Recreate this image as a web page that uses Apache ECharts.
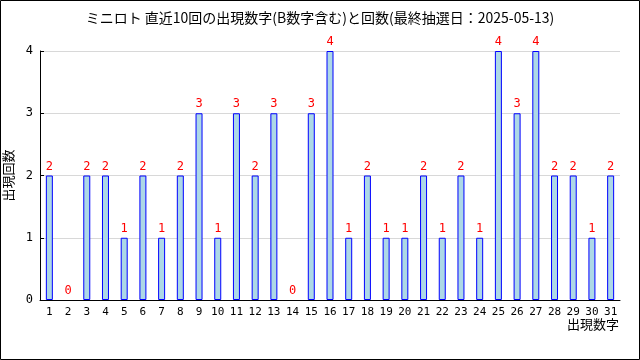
<!DOCTYPE html>
<html><head><meta charset="utf-8">
<script src="https://cdn.jsdelivr.net/npm/echarts@6/dist/echarts.min.js"></script>
<style>html,body{margin:0;padding:0;background:#fff}#c{width:640px;height:360px}</style>
</head><body><div id="c"></div>
<script>
const categories = ['1','2','3','4','5','6','7','8','9','10','11','12','13','14','15','16','17','18','19','20','21','22','23','24','25','26','27','28','29','30','31'];
const counts = [2,0,2,2,1,2,1,2,3,1,3,2,3,0,3,4,1,2,1,1,2,1,2,1,4,3,4,2,2,1,2];
const yTicks = [0,1,2,3,4];
const titleText = 'ミニロト 直近10回の出現数字(B数字含む)と回数(最終抽選日：2025-05-13)';
const xName = '出現数字';
const yName = '出現回数';

const chart = echarts.init(document.getElementById('c'), null, {renderer:'canvas'});
const mono = '"DejaVu Sans Mono", monospace';
const jp = '"Noto Sans CJK JP", sans-serif';
const barData = counts.map(v => v === 0 ? {value:v, itemStyle:{borderWidth:0}} : v);
chart.setOption({
  animation:false,
  backgroundColor:'#fff',
  title:{text:titleText,left:'center',top:6,textStyle:{fontSize:14,fontWeight:'normal',color:'#000',fontFamily:jp}},
  graphic:[
    {type:'rect',shape:{x:0.5,y:0.5,width:639,height:359},style:{fill:null,stroke:'#000',lineWidth:1},silent:true},
    {type:'text',right:21,top:318,style:{text:xName,fontSize:13,fill:'#000',fontFamily:jp},silent:true}
  ],
  grid:{left:40,right:20,top:51,bottom:60,containLabel:false,outerBoundsMode:'none'},
  xAxis:{type:'category',data:categories,
    axisLine:{lineStyle:{color:'#000',width:1}},
    axisTick:{inside:true,length:5,lineStyle:{color:'#000'},alignWithLabel:false},
    axisLabel:{color:'#000',fontSize:11,fontFamily:mono,margin:7,interval:0}},
  yAxis:{type:'value',min:0,max:4,interval:1,name:yName,nameLocation:'middle',nameGap:24,
    nameTextStyle:{fontSize:13,color:'#000',fontFamily:jp},
    axisLine:{show:true,lineStyle:{color:'#000',width:1}},
    axisTick:{show:true,inside:true,length:4,lineStyle:{color:'#000'}},
    axisLabel:{color:'#000',fontSize:12,fontFamily:mono,margin:7,formatter:v=>yTicks.includes(v)?String(v):''},
    splitLine:{show:true,lineStyle:{color:'#d8d8d8',width:1}}},
  series:[{type:'bar',data:barData,barWidth:7,
    itemStyle:{color:'#add8e6',borderColor:'#0000ff',borderWidth:1},
    label:{show:true,position:'top',distance:3,color:'#ff0000',fontSize:12,fontFamily:mono}}]
});
</script></body></html>
